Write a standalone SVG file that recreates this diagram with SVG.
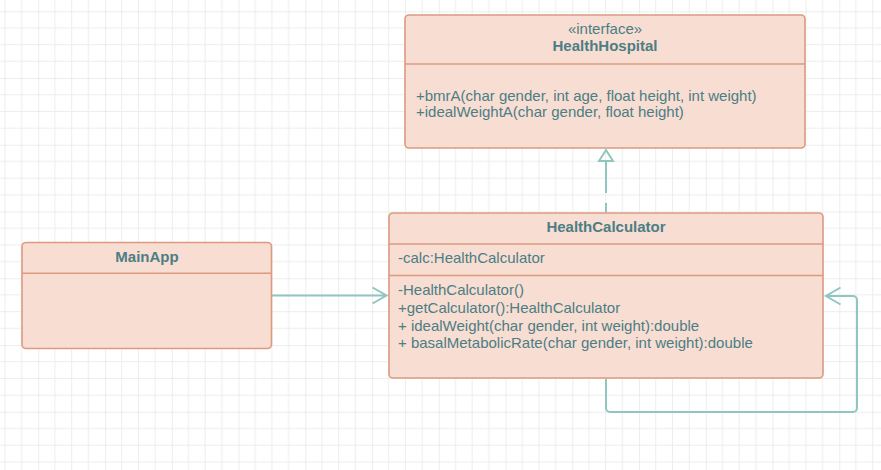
<svg xmlns="http://www.w3.org/2000/svg" width="881" height="470" viewBox="0 0 881 470">
<style>
.box{fill:#f8ddd2;stroke:#dc9a80;stroke-width:1.6}
.div{stroke:#dc9a80;stroke-width:1.6}
.t{font-family:"Liberation Sans",Arial,sans-serif;font-size:15px;fill:#4b7e85}
.b{font-weight:bold;text-anchor:middle}
.c{text-anchor:middle}
.conn{fill:none;stroke:#8fc6bf;stroke-width:2}
</style>
<defs>
<pattern id="grid" x="-28.45" y="11.3" width="66.75" height="66.75" patternUnits="userSpaceOnUse">
<path d="M16.69 0V66.75M33.375 0V66.75M50.06 0V66.75M0 16.69H66.75M0 33.375H66.75M0 50.06H66.75" stroke="#ededed" stroke-width="1" fill="none"/>
<path d="M0 0V66.75M0 0H66.75" stroke="#dcdcdc" stroke-width="1" fill="none"/>
</pattern>
</defs>
<rect width="881" height="470" fill="#ffffff"/>
<rect width="881" height="470" fill="url(#grid)"/>

<g id="connectors">
<path class="conn" d="M272 295.5H386.5M372.5 287.5L386.5 295.5L372.5 303.5"/>
<path class="conn" d="M606 161V212" stroke-dasharray="32 10"/>
<path class="conn" d="M606 161L599 161L606 150L613 161Z" stroke-linejoin="miter"/>
<path class="conn" d="M606 379V408a4 4 0 0 0 4 4H853a4 4 0 0 0 4 -4V300a4 4 0 0 0 -4 -4H826M840.5 287.5L826 296L840.5 304.5"/>
</g>

<g id="HealthHospital">
<rect class="box" x="405" y="15" width="400" height="133" rx="4"/>
<line class="div" x1="405" y1="64" x2="805" y2="64"/>
<text class="t c" x="605" y="34">«interface»</text>
<text class="t b" x="605" y="51">HealthHospital</text>
<text class="t" x="416" y="100.5">+bmrA(char gender, int age, float height, int weight)</text>
<text class="t" x="416" y="117">+idealWeightA(char gender, float height)</text>
</g>

<g id="HealthCalculator">
<rect class="box" x="389" y="213" width="434" height="165" rx="4"/>
<line class="div" x1="389" y1="244" x2="823" y2="244"/>
<line class="div" x1="389" y1="275.5" x2="823" y2="275.5"/>
<text class="t b" x="606" y="232">HealthCalculator</text>
<text class="t" x="398" y="263">-calc:HealthCalculator</text>
<text class="t" x="398" y="295">-HealthCalculator()</text>
<text class="t" x="398" y="312.7">+getCalculator():HealthCalculator</text>
<text class="t" x="398" y="330.5">+ idealWeight(char gender, int weight):double</text>
<text class="t" x="398" y="348.3">+ basalMetabolicRate(char gender, int weight):double</text>
</g>

<g id="MainApp">
<rect class="box" x="22" y="242.5" width="249.5" height="106" rx="4"/>
<line class="div" x1="22" y1="273.3" x2="271.5" y2="273.3"/>
<text class="t b" x="147" y="262">MainApp</text>
</g>
</svg>
